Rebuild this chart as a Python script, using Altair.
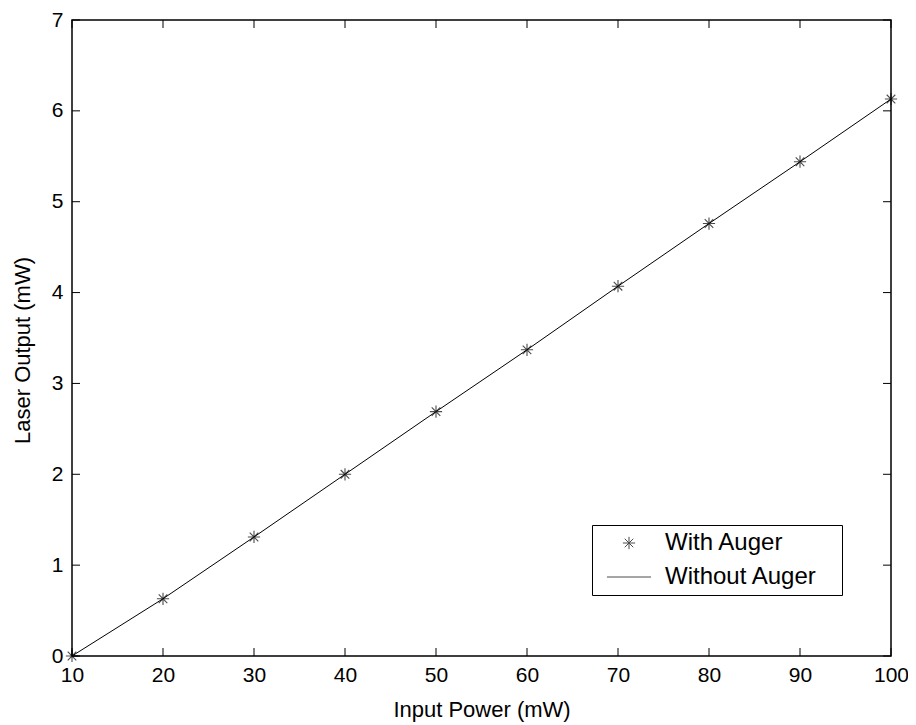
import altair as alt
import pandas as pd

# Data
input_power = [10, 20, 30, 40, 50, 60, 70, 80, 90, 100]
with_auger = [0.0, 0.63, 1.31, 2.00, 2.69, 3.37, 4.07, 4.76, 5.44, 6.13]
without_auger = [0.0, 0.63, 1.31, 2.00, 2.69, 3.37, 4.07, 4.76, 5.44, 6.13]
x_ticks = [10, 20, 30, 40, 50, 60, 70, 80, 90, 100]
y_ticks = [0, 1, 2, 3, 4, 5, 6, 7]
series_names = ["With Auger", "Without Auger"]

W, H = 819, 636
FONT = "Liberation Sans"
STAR = "M-1,0L1,0M0,-1L0,1M-0.7,-0.7L0.7,0.7M-0.7,0.7L0.7,-0.7"
LINE = "M-3.6,0L3.6,0"

df_with = pd.DataFrame({"x": input_power, "y": with_auger, "series": "With Auger"})
df_without = pd.DataFrame({"x": input_power, "y": without_auger, "series": "Without Auger"})
df_xt = pd.DataFrame({"t": x_ticks})
df_yt = pd.DataFrame({"t": y_ticks})

xscale = alt.Scale(domain=[10, 100], nice=False, zero=False)
yscale = alt.Scale(domain=[0, 7], nice=False)

x_axis = alt.Axis(values=x_ticks, format="d", title="Input Power (mW)", grid=False, ticks=False,
                  tickSize=0, labelPadding=8, domain=False, labelFontSize=21,
                  titleFontSize=22, titleFontWeight="normal", titleY=43,
                  titleBaseline="top", labelFont=FONT, titleFont=FONT,
                  labelColor="black", titleColor="black", labelFlush=False)
y_axis = alt.Axis(values=y_ticks, format="d", title="Laser Output (mW)", grid=False, ticks=False,
                  tickSize=0, labelPadding=9, domain=False, labelFontSize=21,
                  titleFontSize=22, titleFontWeight="normal", titleX=-38, titleY=330,
                  labelFont=FONT, titleFont=FONT, labelColor="black",
                  titleColor="black", labelFlush=False)

line = alt.Chart(df_without).mark_line(color="black", strokeWidth=1).encode(
    x=alt.X("x:Q", scale=xscale, axis=x_axis),
    y=alt.Y("y:Q", scale=yscale, axis=y_axis),
)

points = alt.Chart(df_with).mark_point(filled=False, color="black", strokeWidth=1.1, size=150).encode(
    x=alt.X("x:Q", scale=xscale),
    y=alt.Y("y:Q", scale=yscale),
    shape=alt.Shape("series:N", scale=alt.Scale(domain=series_names, range=[STAR, LINE]),
                    legend=alt.Legend(title=None, orient="none", legendX=520, legendY=505,
                                      strokeColor="black", fillColor="white", padding=6,
                                      labelFontSize=24, labelFont=FONT, labelColor="black",
                                      labelLimit=400,
                                      labelExpr="datum.label + '\u2800'",
                                      symbolStrokeColor="black", symbolFillColor="transparent",
                                      symbolStrokeWidth=1, symbolSize=150, symbolOffset=19,
                                      labelOffset=24, rowPadding=10, cornerRadius=0)),
)

tick_len = 8
bottom_ticks = alt.Chart(df_xt).mark_rule(color="black", strokeWidth=1).encode(
    x=alt.X("t:Q", scale=xscale), y=alt.value(H), y2=alt.value(H - tick_len))
top_ticks = alt.Chart(df_xt).mark_rule(color="black", strokeWidth=1).encode(
    x=alt.X("t:Q", scale=xscale), y=alt.value(0), y2=alt.value(tick_len))
left_ticks = alt.Chart(df_yt).mark_rule(color="black", strokeWidth=1).encode(
    y=alt.Y("t:Q", scale=yscale), x=alt.value(0), x2=alt.value(tick_len))
right_ticks = alt.Chart(df_yt).mark_rule(color="black", strokeWidth=1).encode(
    y=alt.Y("t:Q", scale=yscale), x=alt.value(W), x2=alt.value(W - tick_len))

chart = alt.layer(bottom_ticks, top_ticks, left_ticks, right_ticks, line, points).properties(
    width=W, height=H,
    autosize=alt.AutoSizeParams(type="none"),
    padding={"left": 64, "top": 12, "right": 17, "bottom": 66},
    background="white",
).configure_view(stroke="black", strokeWidth=1.5)

chart.save("out.html", embed_options={"renderer": "svg", "actions": False})
